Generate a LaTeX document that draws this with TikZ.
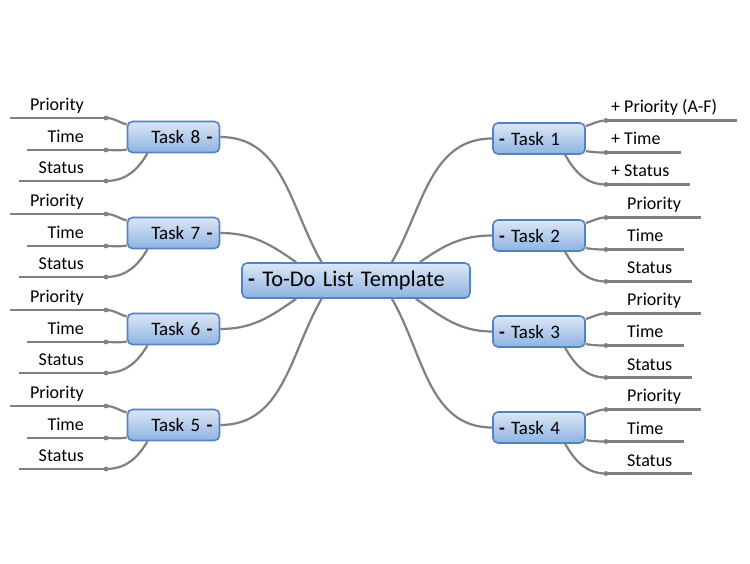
\documentclass[tikz,border=0pt]{standalone}
\usepackage{fontspec}
\setmainfont{Carlito}
\usetikzlibrary{calc,backgrounds}

\definecolor{linegray}{HTML}{808080}
\definecolor{boxtop}{HTML}{DDE7F5}
\definecolor{boxbot}{HTML}{8DB3E2}
\definecolor{boxline}{HTML}{5283C4}

\newcommand{\fold}{\textbf{-}}

\tikzset{
  topic/.style={draw=boxline, line width=1.6pt, rounded corners=5pt,
    top color=boxtop, bottom color=boxbot, minimum height=31pt,
    inner xsep=6pt, inner ysep=0pt, font=\fontsize{19}{22}\selectfont},
  rtask/.style={topic, text width=80pt, align=left},
  ltask/.style={topic, inner xsep=7pt, text width=78pt, align=right},
  branch/.style={draw=linegray, line width=2.2pt},
  leaf/.style={inner sep=0pt, font=\fontsize{18}{21}\selectfont},
  knot/.style={fill=linegray}
}

\begin{document}
\begin{tikzpicture}[x=1pt,y=1pt]
  \useasboundingbox (0,0) rectangle (750,563);

  % central topic and tasks
  \node[topic, minimum height=35pt, text width=216pt, align=left,
        font=\fontsize{22.4}{26}\selectfont] (c) at (356,282.5) {\fold{} To-Do List Template};

  \node[rtask] (t1) at (539,424.5) {\fold{} Task 1};
  \node[rtask] (t2) at (539,327.5) {\fold{} Task 2};
  \node[rtask] (t3) at (539,231.5) {\fold{} Task 3};
  \node[rtask] (t4) at (539,135.5) {\fold{} Task 4};
  \node[ltask] (t8) at (173.5,426) {Task 8 \fold};
  \node[ltask] (t7) at (173.5,330) {Task 7 \fold};
  \node[ltask] (t6) at (173.5,234) {Task 6 \fold};
  \node[ltask] (t5) at (173.5,138) {Task 5 \fold};

  \begin{scope}[on background layer]
    \fill[white] (0,0) rectangle (750,563);
    \draw[branch] (c.27) to[out=60,in=180] (t1.west);
    \draw[branch] (c.16) to[out=35,in=180] (t2.west);
    \draw[branch] (c.-17) to[out=-35,in=180] (t3.west);
    \draw[branch] (c.-27) to[out=-60,in=180] (t4.west);
    \draw[branch] (c.152) to[out=120,in=0] (t8.east);
    \draw[branch] (c.163) to[out=145,in=0] (t7.east);
    \draw[branch] (c.197) to[out=215,in=0] (t6.east);
    \draw[branch] (c.208) to[out=240,in=0] (t5.east);
  \end{scope}

  % right side details
  \foreach \i/\y in {1/424.5,2/327.5,3/231.5,4/135.5}{
    \coordinate (dp\i) at (606,\y+18);
    \coordinate (dm\i) at (606,\y-14);
    \coordinate (ds\i) at (606,\y-46);
    \begin{scope}[on background layer]
      \draw[branch] (t\i.15) to[out=15,in=180] (dp\i);
      \draw[branch] (t\i.-15) to[out=-10,in=180] (dm\i);
      \draw[branch] (t\i.-32) to[out=-60,in=180] (ds\i);
    \end{scope}
  }
  \node[leaf, anchor=base west] (p1) at (611,450) {+ Priority (A-F)};
  \node[leaf, anchor=base west] (m1) at (611,418) {+ Time};
  \node[leaf, anchor=base west] (s1) at (611,386) {+ Status};
  \foreach \i/\y in {2/327.5,3/231.5,4/135.5}{
    \node[leaf, anchor=base west] (p\i) at (627,\y+25.5) {Priority};
    \node[leaf, anchor=base west] (m\i) at (627,\y-6.5) {Time};
    \node[leaf, anchor=base west] (s\i) at (627,\y-38.5) {Status};
  }
  \foreach \i in {1,2,3,4}{
    \draw[branch] (dp\i) -- ($(p\i.east |- dp\i)+(20,0)$);
    \draw[branch] (dm\i) -- ($(m\i.east |- dm\i)+(20,0)$);
    \draw[branch] (ds\i) -- ($(s\i.east |- ds\i)+(20,0)$);
    \fill[knot] (dp\i) circle (2.4) (dm\i) circle (2.4) (ds\i) circle (2.4);
  }

  % left side details
  \foreach \i/\y in {8/426,7/330,6/234,5/138}{
    \coordinate (dp\i) at (106,\y+19);
    \coordinate (dm\i) at (106,\y-13);
    \coordinate (ds\i) at (106,\y-44);
    \node[leaf, anchor=base east] (p\i) at (84,\y+26.5) {Priority};
    \node[leaf, anchor=base east] (m\i) at (84,\y-5.5) {Time};
    \node[leaf, anchor=base east] (s\i) at (84,\y-36.5) {Status};
    \begin{scope}[on background layer]
      \draw[branch] (t\i.165) to[out=165,in=0] (dp\i);
      \draw[branch] (t\i.195) to[out=190,in=0] (dm\i);
      \draw[branch] (t\i.212) to[out=240,in=0] (ds\i);
    \end{scope}
    \draw[branch] ($(p\i.west |- dp\i)+(-20,0)$) -- (dp\i);
    \draw[branch] ($(m\i.west |- dm\i)+(-20,0)$) -- (dm\i);
    \draw[branch] ($(s\i.west |- ds\i)+(-20,0)$) -- (ds\i);
    \fill[knot] (dp\i) circle (2.4) (dm\i) circle (2.4) (ds\i) circle (2.4);
  }
\end{tikzpicture}
\end{document}
